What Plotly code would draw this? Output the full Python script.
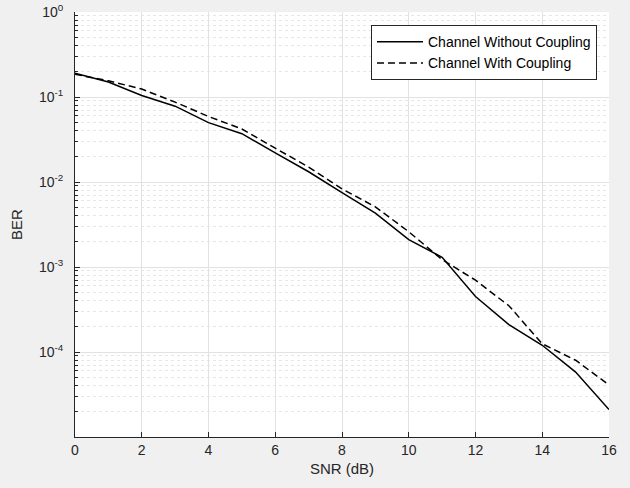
import plotly.graph_objects as go

snr_db = [0, 1, 2, 3, 4, 5, 6, 7, 8, 9, 10, 11, 12, 13, 14, 15, 16]
ber_without = [0.19, 0.15, 0.104, 0.078, 0.050, 0.037, 0.022, 0.0132, 0.0075, 0.0043,
               0.0021, 0.0013, 0.00045, 0.00021, 0.00012, 5.8e-5, 2.1e-5]
ber_with = [0.185, 0.155, 0.124, 0.087, 0.059, 0.042, 0.025, 0.015, 0.0083, 0.0051,
            0.0026, 0.00122, 0.0007, 0.00035, 0.000125, 8.0e-5, 4.1e-5]

name_without = "Channel Without Coupling"
name_with = "Channel With Coupling"

x_ticks = [0, 2, 4, 6, 8, 10, 12, 14, 16]
y_tickvals = [1e-4, 1e-3, 1e-2, 1e-1, 1e0]
y_ticktext = ["10<sup>-4</sup>", "10<sup>-3</sup>", "10<sup>-2</sup>", "10<sup>-1</sup>", "10<sup>0</sup>"]

FONT = "Liberation Sans, Arial, Helvetica, sans-serif"
AX = "#262626"
GRID = "#e2e2e2"
MINOR = "#e6e6e6"

fig = go.Figure()
fig.add_trace(go.Scatter(x=snr_db, y=ber_without, mode="lines", name=name_without,
                         line=dict(color="#000000", width=1.5)))
fig.add_trace(go.Scatter(x=snr_db, y=ber_with, mode="lines", name=name_with,
                         line=dict(color="#000000", width=1.5, dash="7px,4px")))

fig.update_layout(
    width=630, height=488,
    margin=dict(l=75, r=21, t=12, b=51, autoexpand=False),
    paper_bgcolor="#f0f0f0",
    plot_bgcolor="#ffffff",
    font=dict(family=FONT, color=AX, size=13),
    showlegend=True,
    legend=dict(
        x=0.9775, y=0.969, xanchor="right", yanchor="top",
        bgcolor="#ffffff", bordercolor="#262626", borderwidth=1,
        font=dict(family=FONT, size=14, color="#000000"),
        tracegroupgap=0, itemwidth=46,
    ),
    xaxis=dict(
        range=[0, 16], tickvals=x_ticks, automargin=False,
        showline=True, linecolor=AX, linewidth=1, mirror=False,
        ticks="inside", ticklen=5, tickcolor=AX,
        showgrid=True, gridcolor=GRID, gridwidth=1,
        zeroline=False,
        title=dict(text="SNR (dB)", font=dict(size=15, family=FONT, color=AX), standoff=6),
        tickfont=dict(size=14, family=FONT, color=AX),
    ),
    yaxis=dict(
        type="log", range=[-5, 0], automargin=False,
        tickvals=y_tickvals, ticktext=y_ticktext,
        showline=True, linecolor=AX, linewidth=1, mirror=False,
        ticks="inside", ticklen=5, tickcolor=AX,
        ticklabelstandoff=8,
        showgrid=True, gridcolor=GRID, gridwidth=1,
        zeroline=False,
        minor=dict(dtick="D1", ticks="inside", ticklen=3, tickcolor=AX,
                   showgrid=True, gridcolor=MINOR, griddash="dot", gridwidth=1),
        title=dict(text="BER", font=dict(size=15, family=FONT, color=AX), standoff=12),
        tickfont=dict(size=14, family=FONT, color=AX),
    ),
)

fig.write_html("out.html")
